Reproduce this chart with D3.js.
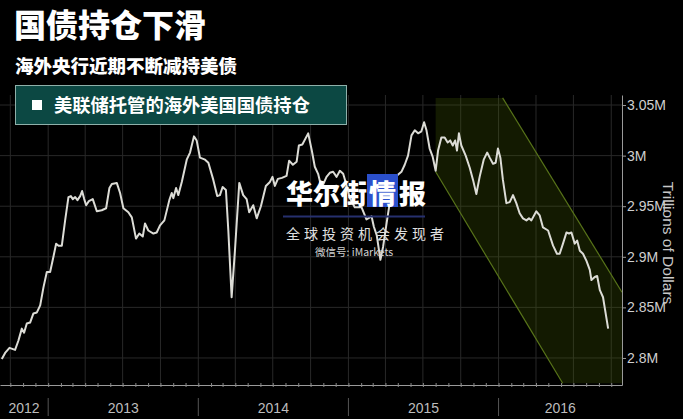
<!DOCTYPE html>
<html><head><meta charset="utf-8">
<script src="https://cdn.jsdelivr.net/npm/d3@7"></script>
<style>
html,body{margin:0;padding:0;background:#000;}
svg{display:block;}
</style></head>
<body>
<svg id="c" width="683" height="419"></svg>
<script>
// ---- Data ----
const title = "国债持仓下滑";
const subtitle = "海外央行近期不断减持美债";
const legendLabel = "美联储托管的海外美国国债持仓";
const axisTitle = "Trillions of Dollars";
const yTicks = [2.8, 2.85, 2.9, 2.95, 3.0, 3.05];
const yTickLabels = ["2.8M", "2.85M", "2.9M", "2.95M", "3M", "3.05M"];
const years = [2012, 2013, 2014, 2015, 2016];
const xStart = 2012.68, xEnd = 2016.82;
// dates as decimal years
const dates = [2012.692,2012.714,2012.743,2012.780,2012.802,2012.825,2012.840,2012.858,2012.880,2012.902,
2012.925,2012.947,2012.969,2012.991,2013.013,2013.035,2013.053,2013.069,2013.091,2013.113,
2013.135,2013.151,2013.164,2013.180,2013.195,2013.213,2013.226,2013.240,2013.253,2013.271,
2013.297,2013.324,2013.357,2013.386,2013.408,2013.424,2013.457,2013.479,2013.501,2013.534,
2013.557,2013.585,2013.607,2013.630,2013.645,2013.667,2013.701,2013.723,2013.745,2013.774,
2013.807,2013.823,2013.834,2013.852,2013.867,2013.890,2013.923,2013.945,2013.971,2013.989,
2014.011,2014.045,2014.067,2014.100,2014.126,2014.144,2014.162,2014.184,2014.200,2014.222,
2014.244,2014.273,2014.299,2014.322,2014.339,2014.366,2014.389,2014.417,2014.450,2014.477,
2014.494,2014.510,2014.530,2014.557,2014.588,2014.605,2014.630,2014.655,2014.670,2014.693,
2014.732,2014.756,2014.776,2014.798,2014.821,2014.854,2014.876,2014.898,2014.921,2014.943,
2014.965,2014.987,2015.009,2015.042,2015.087,2015.120,2015.154,2015.169,2015.189,2015.213,
2015.231,2015.255,2015.275,2015.297,2015.322,2015.353,2015.375,2015.397,2015.420,2015.442,
2015.464,2015.486,2015.504,2015.520,2015.541,2015.561,2015.581,2015.597,2015.619,2015.641,
2015.661,2015.678,2015.695,2015.711,2015.723,2015.736,2015.752,2015.781,2015.808,2015.830,
2015.852,2015.874,2015.901,2015.924,2015.941,2015.963,2015.981,2015.996,2016.012,2016.029,
2016.052,2016.074,2016.096,2016.118,2016.140,2016.162,2016.185,2016.202,2016.218,2016.251,
2016.273,2016.295,2016.329,2016.362,2016.388,2016.406,2016.428,2016.451,2016.468,2016.484,
2016.506,2016.522,2016.540,2016.561,2016.584,2016.606,2016.617,2016.639,2016.655,2016.673,
2016.694,2016.706,2016.728];
const holdings = [2.799,2.805,2.810,2.808,2.817,2.829,2.825,2.834,2.835,2.844,
2.845,2.852,2.870,2.885,2.885,2.900,2.913,2.911,2.911,2.936,
2.959,2.960,2.957,2.959,2.956,2.960,2.965,2.957,2.951,2.955,
2.957,2.945,2.946,2.948,2.968,2.972,2.973,2.963,2.948,2.944,
2.939,2.918,2.923,2.920,2.933,2.926,2.923,2.924,2.931,2.936,
2.956,2.963,2.958,2.968,2.961,2.974,2.996,3.003,3.019,3.015,
2.998,2.996,2.993,2.976,2.960,2.961,2.969,2.966,2.926,2.860,
2.906,2.973,2.961,2.957,2.944,2.951,2.938,2.950,2.970,2.974,
2.979,2.970,2.977,2.978,2.980,2.995,2.991,2.994,3.010,3.011,
3.022,3.005,2.989,2.982,2.968,2.979,2.983,2.984,2.979,2.985,
2.982,2.971,2.958,2.949,2.949,2.937,2.940,2.930,2.921,2.897,
2.910,2.934,2.953,2.968,2.980,2.984,2.991,3.000,3.020,3.025,
3.022,3.024,3.033,3.025,3.007,2.999,2.985,3.005,3.018,3.018,
3.013,3.015,3.010,3.015,3.005,3.022,3.010,3.000,2.988,2.976,
2.962,2.979,2.996,3.003,2.998,2.992,2.993,3.007,2.998,2.976,
2.953,2.954,2.961,2.953,2.943,2.938,2.936,2.938,2.936,2.945,
2.941,2.929,2.926,2.911,2.903,2.903,2.913,2.924,2.923,2.924,
2.913,2.916,2.906,2.903,2.896,2.887,2.877,2.880,2.881,2.867,
2.860,2.849,2.829];
// downtrend channel (decimal year, value)
const bandDates = [2015.581, 2015.581, 2016.426, 2016.82, 2016.82, 2016.027];
const bandValues = [3.057, 2.984, 2.775, 2.775, 2.865, 3.057];

// ---- Helpers ----
function toDate(y){ const yr=Math.floor(y); const s=new Date(yr,0,1), e=new Date(yr+1,0,1); return new Date(+s + (y-yr)*(e-s)); }

const svg = d3.select("#c");
const W = 683, H = 419;
const m = {left:0, right:622, top:95, bottom:385};
const x = d3.scaleTime().domain([toDate(xStart), toDate(xEnd)]).range([m.left, m.right]);
const y = d3.scaleLinear().domain([2.7733, 3.0599]).range([m.bottom, m.top]);

svg.append("rect").attr("width",W).attr("height",H).attr("fill","#000");

// gridlines
const g = svg.append("g");
const qTicks = x.ticks(d3.timeMonth.every(3));
g.selectAll(".vg").data(qTicks).join("line")
  .attr("x1",d=>x(d)).attr("x2",d=>x(d)).attr("y1",m.top).attr("y2",m.bottom)
  .attr("stroke","#282828").attr("stroke-width",1);
g.selectAll(".hg").data(yTicks).join("line")
  .attr("x1",m.left).attr("x2",m.right).attr("y1",d=>y(d)).attr("y2",d=>y(d))
  .attr("stroke","#282828").attr("stroke-width",1);

// band
const bandPts = bandDates.map((d,i)=>[x(toDate(d)), y(bandValues[i])]);
svg.append("polygon").attr("points", bandPts.map(p=>p.join(",")).join(" "))
  .attr("fill","rgba(75,100,5,0.26)");
svg.append("line").attr("x1",bandPts[1][0]).attr("y1",bandPts[1][1]).attr("x2",bandPts[2][0]).attr("y2",bandPts[2][1])
  .attr("stroke","#587419").attr("stroke-width",1.2);
svg.append("line").attr("x1",bandPts[5][0]).attr("y1",bandPts[5][1]).attr("x2",bandPts[4][0]).attr("y2",bandPts[4][1])
  .attr("stroke","#587419").attr("stroke-width",1.2);

// line
const series = dates.map((d,i)=>({d:toDate(d), v:holdings[i]}));
svg.append("path").datum(series)
  .attr("d", d3.line().x(d=>x(d.d)).y(d=>y(d.v)))
  .attr("fill","none").attr("stroke","#dcdcd6").attr("stroke-width",2).attr("stroke-linejoin","round");

// x axis
const xa = svg.append("g").attr("transform",`translate(0,${m.bottom})`)
  .call(d3.axisBottom(x).ticks(d3.timeMonth.every(1)).tickSize(3).tickSizeOuter(0).tickFormat(""));
xa.select(".domain").attr("stroke","#9a9a9a");
xa.selectAll(".tick line").attr("stroke","#8a8a8a").attr("y1",-2).attr("y2",2);

const yearBounds = years.slice(1).map(yr=>new Date(yr,0,1));
svg.selectAll(".ysep").data(yearBounds).join("line")
  .attr("x1",d=>x(d)).attr("x2",d=>x(d)).attr("y1",398).attr("y2",416)
  .attr("stroke","#555").attr("stroke-width",1);
svg.selectAll(".ylab").data(years).join("text")
  .attr("x", yr=>{ const a=Math.max(x(new Date(yr,0,1)), m.left), b=Math.min(x(new Date(yr+1,0,1)), m.right); return (a+b)/2; })
  .attr("y", 413).attr("text-anchor","middle")
  .attr("font-family","'Liberation Sans Narrow','Arial Narrow',sans-serif").attr("font-size",14)
  .attr("fill","#bdbdbd").text(d=>d);

// y axis
const ya = svg.append("g").attr("transform",`translate(${m.right},0)`)
  .call(d3.axisRight(y).tickValues(yTicks).tickSize(4).tickSizeOuter(0).tickFormat((d,i)=>yTickLabels[i]));
ya.select(".domain").attr("stroke","#9a9a9a");
ya.selectAll(".tick line").attr("stroke","#9a9a9a");
ya.selectAll(".tick text").attr("fill","#cfcfcf").attr("x",5)
  .attr("font-family","'Liberation Sans Narrow','Arial Narrow',sans-serif").attr("font-size",14);
svg.append("text").attr("transform","translate(663,243) rotate(90)").attr("text-anchor","middle")
  .attr("font-family","'Liberation Sans',Arial,sans-serif").attr("font-size",15.5).attr("fill","#c8c8c8").text(axisTitle);

// header
const cjk = "'Noto Sans CJK SC','Noto Sans CJK JP',sans-serif";
svg.append("text").attr("x",14).attr("y",37).attr("font-family",cjk).attr("font-weight",900)
  .attr("font-size",32).attr("fill","#fff").text(title);
svg.append("text").attr("x",15).attr("y",73).attr("font-family",cjk).attr("font-weight",900)
  .attr("font-size",18.5).attr("fill","#fff").text(subtitle);
svg.append("rect").attr("x",15.5).attr("y",85.5).attr("width",331).attr("height",39)
  .attr("fill","#0c4843").attr("stroke","#8fb0aa").attr("stroke-width",1);
svg.append("rect").attr("x",32).attr("y",100).attr("width",10).attr("height",10).attr("fill","#fff");
svg.append("text").attr("x",54).attr("y",112).attr("font-family",cjk).attr("font-weight",700)
  .attr("font-size",18.3).attr("fill","#fff").text(legendLabel);

// watermark
const wm = svg.append("g");
wm.append("text").attr("x",286).attr("y",204).attr("font-family",cjk).attr("font-weight",900)
  .attr("font-size",27).attr("fill","#fff").text("华尔街");
wm.append("rect").attr("x",367).attr("y",174).attr("width",31).attr("height",33).attr("fill","#2b50cc");
wm.append("text").attr("x",369).attr("y",204).attr("font-family",cjk).attr("font-weight",900)
  .attr("font-size",27).attr("fill","#fff").text("情");
wm.append("text").attr("x",399).attr("y",204).attr("font-family",cjk).attr("font-weight",900)
  .attr("font-size",27).attr("fill","#fff").text("报");
wm.append("line").attr("x1",283).attr("x2",425).attr("y1",216.5).attr("y2",216.5).attr("stroke","#26306e").attr("stroke-width",2);
wm.append("text").attr("x",286).attr("y",239).attr("font-family",cjk).attr("font-size",14)
  .attr("letter-spacing",4).attr("fill","#e0e0e0").text("全球投资机会发现者");
wm.append("text").attr("x",315).attr("y",256).attr("font-family",cjk).attr("font-size",10.5)
  .attr("fill","#d0d0d0").text("微信号:  iMarkets");
</script>
</body></html>
